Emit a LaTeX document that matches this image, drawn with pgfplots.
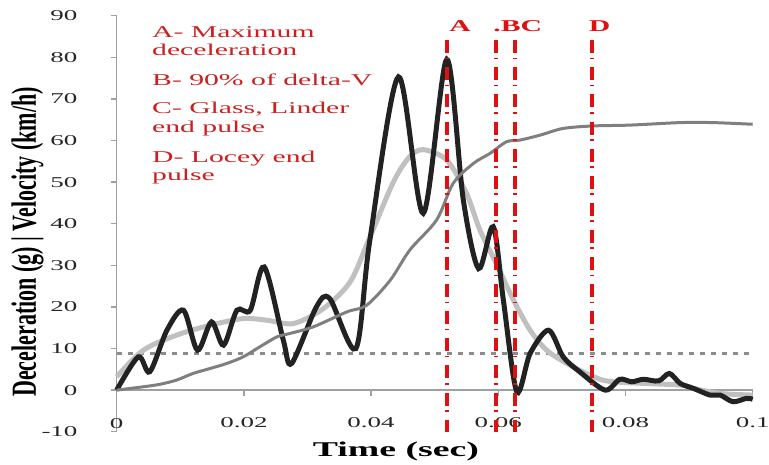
\documentclass[border=0pt]{standalone}
\usepackage{fontspec}
\usepackage{graphicx}
\usepackage{pgfplots}
\pgfplotsset{compat=1.18}
\setmainfont{Liberation Serif}
\newfontfamily\wide[FakeStretch=1.8]{Liberation Serif}

\definecolor{decel}{HTML}{222222}
\definecolor{filtered}{HTML}{C0C0C0}
\definecolor{velocity}{HTML}{7F7F7F}
\definecolor{axisgray}{HTML}{A0A0A0}
\definecolor{thresh}{HTML}{8C8C8C}
\definecolor{markred}{HTML}{E01010}
\definecolor{notered}{HTML}{CC1F1F}

\begin{document}
\begin{tikzpicture}
\begin{axis}[
  name=main,
  scale only axis, width=636bp, height=416bp,
  xmin=0, xmax=0.1, ymin=-10, ymax=90,
  clip=false,
  axis x line*=middle, axis y line*=left,
  hide obscured x ticks=false, hide obscured y ticks=false,
  axis line style={draw=axisgray, line width=1.6bp},
  tick align=outside, major tick length=6bp,
  tick style={draw=axisgray, line width=1.3bp},
  xtick={0,0.02,0.04,0.06,0.08,0.1},
  xticklabels={0,0.02,0.04,0.06,0.08,0.1},
  ytick={-10,0,10,20,30,40,50,60,70,80,90},
  yticklabels={-10,0,10,20,30,40,50,60,70,80,90},
  xticklabel style={font=\wide\fontsize{15bp}{18bp}\selectfont, text=black!85,
    anchor=center, inner sep=0pt, yshift=-27bp},
  yticklabel style={font=\wide\fontsize{15bp}{18bp}\selectfont, text=black!85,
    anchor=east, inner sep=0pt, xshift=-33bp},
  every axis x label/.style={at={(axis description cs:0.439,-0.048)}, anchor=center},
  every axis y label/.style={at={(axis description cs:-0.140,0.456)}, anchor=center, rotate=90},
  xlabel={\wide\bfseries\fontsize{21bp}{24bp}\selectfont Time (sec)},
  ylabel={\scalebox{1}[1.6]{\bfseries\fontsize{22bp}{24bp}\selectfont Deceleration (g) | Velocity (km/h)}},
]

% 9 g threshold
\addplot[thresh, line width=3bp, dash pattern=on 5bp off 6bp] coordinates {(0,8.9) (0.1,8.9)};

% filtered deceleration
\addplot[filtered, line width=5bp, smooth] coordinates {
(0,3.2) (0.0042,9.6) (0.0094,13.2) (0.0147,15.6) (0.0199,17.2) (0.0236,16.8)
(0.0278,16.0) (0.0325,19.6) (0.0367,26.0) (0.0396,36.0) (0.0435,50.0) (0.0460,56.0)
(0.0482,57.8) (0.0519,55.3) (0.0550,47.3) (0.0571,38.5) (0.0597,30.4) (0.0624,21.6)
(0.0650,14.4) (0.0676,9.6) (0.0708,6.4) (0.0750,3.2) (0.0781,2.0) (0.0886,1.2)
(0.0907,0.4) (0.0949,-0.8) (0.1,-1.2)};

% raw deceleration
\addplot[decel, line width=5bp, smooth] coordinates {
(0,0) (0.0034,8.0) (0.0052,4.4) (0.0079,14.4) (0.0105,19.2) (0.0127,9.6)
(0.0149,16.4) (0.0168,10.8) (0.0189,19.2) (0.0210,19.2) (0.0232,29.6) (0.0262,12.0)
(0.0275,6.4) (0.0314,20.0) (0.0335,22.0) (0.0376,10.0) (0.0398,36.0) (0.0443,75.3)
(0.0482,42.5) (0.0519,79.5) (0.0545,45.7) (0.0569,29.2) (0.0592,39.3) (0.0608,21.6)
(0.0629,-0.4) (0.0650,8.8) (0.0679,14.4) (0.0702,8.0) (0.0728,4.4) (0.0768,0.0)
(0.0791,2.6) (0.0810,2.0) (0.0828,2.6) (0.0852,2.2) (0.0869,4.0) (0.0886,1.6)
(0.0907,0.4) (0.0933,-1.2) (0.0949,-1.2) (0.0969,-2.8) (0.0990,-2.0) (0.1,-2.2)};

% velocity
\addplot[velocity, line width=3bp, smooth] coordinates {
(0,0) (0.0042,0.8) (0.0068,1.4) (0.0094,2.4) (0.0120,4.0) (0.0147,5.2)
(0.0173,6.4) (0.0199,8.0) (0.0225,10.4) (0.0252,12.8) (0.0272,13.6) (0.0309,15.2)
(0.0362,18.8) (0.0393,20.4) (0.0430,26.4) (0.0461,33.7) (0.0503,40.9) (0.0529,49.7)
(0.0561,54.5) (0.0587,56.9) (0.0613,59.7) (0.0634,60.1) (0.0666,61.3) (0.0702,62.9)
(0.0749,63.5) (0.0807,63.7) (0.0886,64.3) (0.0938,64.3) (0.1,63.9)};

% event markers A-D
\pgfplotsset{event/.style={markred, line width=4bp, dash pattern=on 13bp off 4.5bp on 1.6bp off 8bp}}
\addplot[event] coordinates {(0.0519,84.1) (0.0519,-10)};
\addplot[event] coordinates {(0.0596,84.1) (0.0596,-10)};
\addplot[event] coordinates {(0.0627,84.1) (0.0627,-10)};
\addplot[event] coordinates {(0.0748,84.1) (0.0748,-10)};

\begin{scope}[every node/.style={text=markred, inner sep=0pt, font=\wide\bfseries\fontsize{16.5bp}{18bp}\selectfont}]
\node[anchor=base] at (axis cs:0.0540,86.1) {A};
\node[anchor=base west] at (axis cs:0.0592,86.1) {.BC};
\node[anchor=base west] at (axis cs:0.0742,86.1) {D};
\end{scope}

\begin{scope}[every node/.style={text=notered, inner sep=0pt, anchor=base west, font=\wide\fontsize{16.5bp}{18bp}\selectfont}]
\node at (axis cs:0.00555,84.8) {A- Maximum};
\node at (axis cs:0.00555,80.5) {deceleration};
\node at (axis cs:0.00555,73.3) {B- 90\% of delta-V};
\node at (axis cs:0.00555,66.6) {C- Glass, Linder};
\node at (axis cs:0.00555,62.0) {end pulse};
\node at (axis cs:0.00555,54.8) {D- Locey end};
\node at (axis cs:0.00555,50.5) {pulse};
\end{scope}
\end{axis}
\pgfresetboundingbox
\path (main.south west) ++(-116.7bp,-33.3bp) rectangle ++(769bp,465bp);
\end{tikzpicture}
\end{document}
